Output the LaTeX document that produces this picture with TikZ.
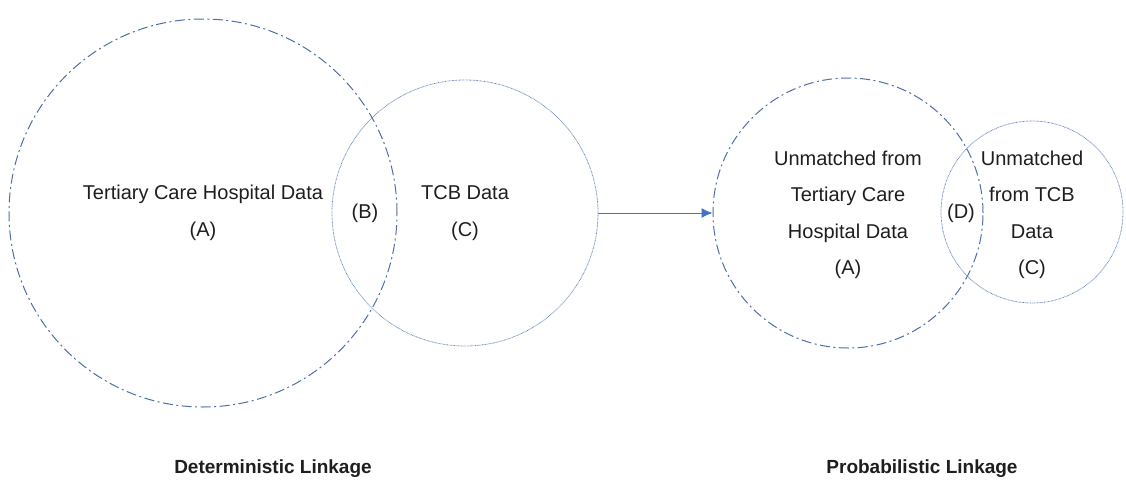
\documentclass[tikz,border=0pt]{standalone}
\usepackage{fontspec}
\setmainfont{Liberation Sans}
\usetikzlibrary{arrows.meta}
\definecolor{dashblue}{HTML}{4F6FA6}
\definecolor{dotblue}{HTML}{6585C2}
\definecolor{arrowblue}{HTML}{4472C4}
\definecolor{txt}{HTML}{1E1E1E}
\tikzset{
  dashcirc/.style={circle, draw=dashblue, line width=1pt, inner sep=0pt,
    dash pattern=on 10pt off 3.5pt on 2pt off 3.5pt},
  dotcirc/.style={circle, draw=dotblue, line width=0.8pt, inner sep=0pt,
    dash pattern=on 0.7pt off 0.7pt},
  lbl/.style={text=txt, font=\fontsize{20}{36.5}\selectfont, align=center, inner sep=0pt},
  title/.style={text=txt, font=\fontsize{19}{22}\selectfont\bfseries, inner sep=0pt}
}
\begin{document}
\begin{tikzpicture}[x=1pt,y=-1pt]
\useasboundingbox (0,0) rectangle (1126,485);
% left group
\node[dashcirc, minimum size=388pt] (A) at (203,213) {};
\node[dotcirc, minimum size=266pt] (C) at (465,213) {};
\node[lbl] (tA) at (203,213) {Tertiary Care Hospital Data\\(A)};
\node[lbl] (tB) at (365,213) {(B)};
\node[lbl] (tC) at (465,213) {TCB Data\\(C)};
% right group
\node[dashcirc, minimum size=270pt] (A2) at (848,213) {};
\node[dotcirc, minimum size=182pt] (C2) at (1032,212) {};
\node[lbl] (tA2) at (848,215) {Unmatched from\\Tertiary Care\\Hospital Data\\(A)};
\node[lbl] (tD) at (961,213) {(D)};
\node[lbl] (tC2) at (1032,215) {Unmatched\\from TCB\\Data\\(C)};
% arrow
\draw[arrowblue, line width=1pt, -{Latex[length=11pt,width=10pt]}] (C.east) -- (A2.west);
% titles
\node[title] (d) at (273,469) {Deterministic Linkage};
\node[title] (p) at (922,469) {Probabilistic Linkage};
\end{tikzpicture}
\end{document}
